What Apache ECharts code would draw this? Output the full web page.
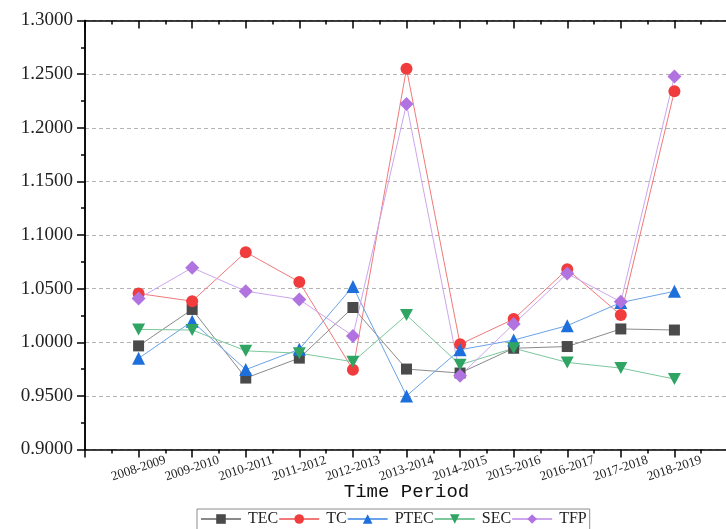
<!DOCTYPE html>
<html>
<head>
<meta charset="utf-8">
<script src="https://cdn.jsdelivr.net/npm/echarts@6/dist/echarts.min.js"></script>
<style>html,body{margin:0;padding:0;background:#fff;}#c{width:726px;height:529px;}</style>
</head>
<body>
<div id="c"></div>
<script>
const categories = ['2008-2009','2009-2010','2010-2011','2011-2012','2012-2013','2013-2014','2014-2015','2015-2016','2016-2017','2017-2018','2018-2019'];
const TEC  = [0.9966, 1.0306, 0.9666, 0.9852, 1.0324, 0.9750, 0.9713, 0.9944, 0.9960, 1.0124, 1.0114];
const TC   = [1.0454, 1.0383, 1.0840, 1.0562, 0.9744, 1.2550, 0.9981, 1.0216, 1.0680, 1.0253, 1.2341];
const PTEC = [0.9850, 1.0195, 0.9745, 0.9935, 1.0520, 0.9500, 0.9930, 1.0020, 1.0155, 1.0370, 1.0475];
const SEC  = [1.0120, 1.0114, 0.9920, 0.9898, 0.9818, 1.0253, 0.9790, 0.9944, 0.9812, 0.9759, 0.9657];
const TFP  = [1.0408, 1.0695, 1.0476, 1.0399, 1.0059, 1.2222, 0.9688, 1.0170, 1.0640, 1.0377, 1.2478];
const yTicks = {min: 0.9, max: 1.3, interval: 0.05};

const axisCats = [''].concat(categories).concat([' ']);
const serif = 'Liberation Serif';
const seriesDefs = [
  {name:'TEC', vals:TEC, color:'#4a4a4a', line:'#8a8a8a', symbol:'rect', size:11},
  {name:'TC', vals:TC, color:'#f03c3c', line:'#f07a7a', symbol:'circle', size:12},
  {name:'PTEC', vals:PTEC, color:'#1d6fdc', line:'#6aa3e8', symbol:'triangle', size:13},
  {name:'SEC', vals:SEC, color:'#2fa463', line:'#7cc79c', symbol:'path://M0,0 L10,0 L5,8.66 Z', size:[13,12]},
  {name:'TFP', vals:TFP, color:'#b173e0', line:'#cda6ee', symbol:'diamond', size:14}
];
const chart = echarts.init(document.getElementById('c'));
const lineCol = '#000';
chart.setOption({
  backgroundColor:'#fff',
  animation:false,
  grid:{left:85, right:-2, top:20.5, bottom:79.5, containLabel:false, outerBoundsMode:'none'},
  legend:{
    left:197, top:509, itemGap:0, itemWidth:40, itemHeight:12,
    padding:[2,3,10,3], borderColor:'#8c8c8c', borderWidth:1,
    textStyle:{fontFamily:serif, fontSize:16, color:'#222', padding:[0,0,0,2]},
    data: seriesDefs.map(s=>s.name)
  },
  xAxis:[
    {type:'category', data:axisCats, boundaryGap:false, position:'bottom',
     axisLine:{show:true, lineStyle:{color:lineCol, width:1.5}},
     axisTick:{show:false},
     axisLabel:{interval:0, rotate:18, align:'center', verticalAlign:'middle', margin:19,
       fontFamily:serif, fontSize:13, color:'#222'},
     splitLine:{show:false},
     name:'Time Period', nameLocation:'middle', nameGap:33, nameMoveOverlap:false,
     nameTextStyle:{fontFamily:'Liberation Mono', fontSize:19, color:'#111'}},
    {type:'value', min:0, max:12, interval:1, position:'bottom',
     axisLine:{show:false}, axisLabel:{show:false}, splitLine:{show:false},
     axisTick:{show:true, length:8, lineStyle:{color:lineCol, width:1.5}},
     minorTick:{show:true, splitNumber:2, length:4, lineStyle:{color:lineCol, width:1.5}}},
    {type:'value', min:0, max:12, interval:1, position:'top',
     axisLine:{show:true, lineStyle:{color:lineCol, width:1.5}}, axisLabel:{show:false}, splitLine:{show:false},
     axisTick:{show:true, inside:true, length:8, lineStyle:{color:lineCol, width:1.5}},
     minorTick:{show:true, splitNumber:2, length:4, lineStyle:{color:lineCol, width:1.5}}}
  ],
  yAxis:[
    {type:'value', min:yTicks.min, max:yTicks.max, interval:yTicks.interval, position:'left',
     axisLine:{show:true, lineStyle:{color:lineCol, width:1.5}},
     axisTick:{show:true, length:8, lineStyle:{color:lineCol, width:1.5}},
     minorTick:{show:true, splitNumber:2, length:4, lineStyle:{color:lineCol, width:1.5}},
     axisLabel:{formatter:v=>v.toFixed(4), fontFamily:serif, fontSize:19, color:'#222', margin:12},
     splitLine:{show:true, lineStyle:{color:'#b4b4b4', type:[4,3], width:1}}},
    {type:'value', min:yTicks.min, max:yTicks.max, interval:yTicks.interval, position:'right',
     axisLine:{show:true, lineStyle:{color:lineCol, width:1.5}},
     axisTick:{show:true, inside:true, length:8, lineStyle:{color:lineCol, width:1.5}},
     minorTick:{show:true, splitNumber:2, length:4, lineStyle:{color:lineCol, width:1.5}},
     axisLabel:{show:false}, splitLine:{show:false}}
  ],
  series: seriesDefs.map(s=>({
    name:s.name, type:'line', xAxisIndex:0, yAxisIndex:0,
    data: categories.map((c,i)=>[c, s.vals[i]]),
    symbol:s.symbol, symbolSize:s.size, showSymbol:true,
    itemStyle:{color:s.color},
    lineStyle:{color:s.line, width:1},
    emphasis:{disabled:true}
  }))
});
</script>
</body>
</html>
